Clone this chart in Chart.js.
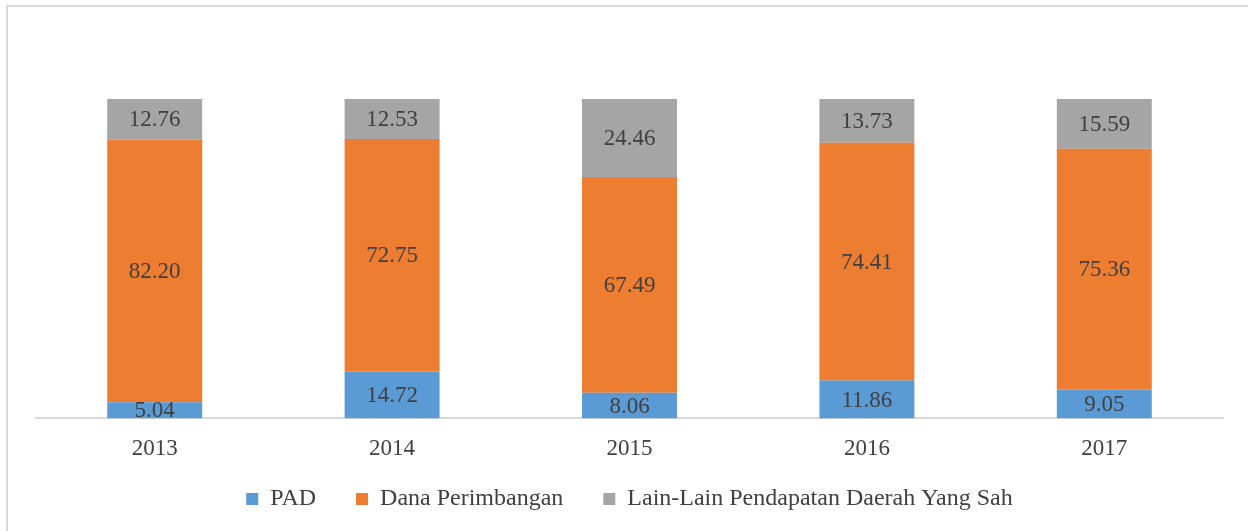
<!DOCTYPE html>
<html>
<head>
<meta charset="utf-8">
<script src="https://cdn.jsdelivr.net/npm/chart.js@4"></script>
<style>
  html, body { margin: 0; padding: 0; background: #fff; }
  #wrap { position: relative; width: 1248px; height: 531px; overflow: hidden; }
  #frame { position: absolute; left: 6px; top: 5px; width: 1300px; height: 600px;
           border-left: 2px solid #d9d9d9; border-top: 2px solid #d9d9d9; }
  canvas { position: absolute; left: 0; top: 0; }
</style>
</head>
<body>
<div id="wrap">
  <div id="frame"></div>
  <canvas id="c" width="1248" height="531"></canvas>
</div>
<script>
const categories = ["2013", "2014", "2015", "2016", "2017"];
const seriesNames = ["PAD", "Dana Perimbangan", "Lain-Lain Pendapatan Daerah Yang Sah"];
const padValues = [5.04, 14.72, 8.06, 11.86, 9.05];
const danaValues = [82.20, 72.75, 67.49, 74.41, 75.36];
const lainValues = [12.76, 12.53, 24.46, 13.73, 15.59];
const colors = ["#5B9BD5", "#ED7D31", "#A5A5A5"];

const FONT = '"Liberation Serif", "Times New Roman", serif';
const AXIS_SHRINK = 33;

const valueLabels = {
  id: 'valueLabels',
  afterLayout(chart) {
    // let the category labels extend past the shrunken axis box
    chart.scales.x.bottom += AXIS_SHRINK;
  },
  afterDatasetsDraw(chart) {
    const ctx = chart.ctx;
    ctx.save();
    ctx.font = '23px ' + FONT;
    ctx.fillStyle = '#404040';
    ctx.textAlign = 'center';
    ctx.textBaseline = 'middle';
    chart.data.datasets.forEach((ds, i) => {
      const meta = chart.getDatasetMeta(i);
      meta.data.forEach((el, j) => {
        const p = el.getProps(['x', 'y', 'base'], true);
        ctx.fillText(ds.data[j].toFixed(2), p.x, (p.y + p.base) / 2 + 1);
      });
    });
    ctx.restore();
  }
};

new Chart(document.getElementById('c'), {
  type: 'bar',
  data: {
    labels: categories,
    datasets: [
      { label: seriesNames[0], data: padValues, backgroundColor: colors[0] },
      { label: seriesNames[1], data: danaValues, backgroundColor: colors[1] },
      { label: seriesNames[2], data: lainValues, backgroundColor: colors[2] }
    ]
  },
  options: {
    responsive: false,
    animation: false,
    events: [],
    layout: { padding: { top: 99, left: 36, right: 25, bottom: 10 } },
    datasets: { bar: { barPercentage: 0.4, categoryPercentage: 1.0 } },
    scales: {
      x: {
        stacked: true,
        grid: { display: false, drawTicks: false },
        border: { display: true, color: '#d9d9d9', width: 2 },
        ticks: { color: '#404040', font: { family: FONT, size: 23 }, padding: 17 },
        afterFit(scale) { scale.height -= AXIS_SHRINK; }
      },
      y: {
        stacked: true,
        display: false,
        min: 0,
        max: 100
      }
    },
    plugins: {
      legend: {
        position: 'bottom',
        labels: {
          color: '#404040',
          font: { family: FONT, size: 24 },
          boxWidth: 12,
          boxHeight: 12,
          padding: 40
        }
      },
      tooltip: { enabled: false }
    }
  },
  plugins: [valueLabels]
});
</script>
</body>
</html>
